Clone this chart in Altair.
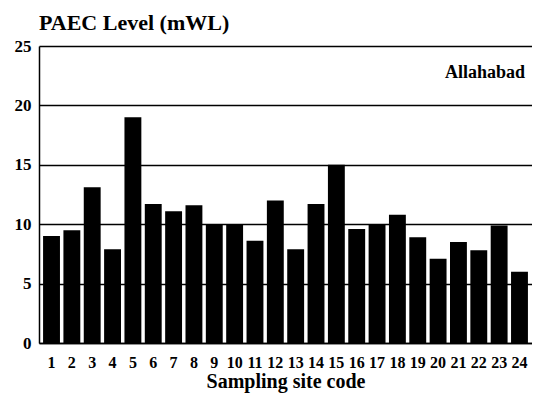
import altair as alt
import pandas as pd

sites = [str(i) for i in range(1, 25)]
paec = [9.0, 9.5, 13.1, 7.9, 19.0, 11.7, 11.1, 11.6, 10.0, 10.0, 8.6, 12.0,
        7.9, 11.7, 15.0, 9.6, 10.0, 10.8, 8.9, 7.1, 8.5, 7.8, 9.9, 6.0]
y_ticks = [0, 5, 10, 15, 20, 25]
location_label = ["Allahabad"]
location_y = [22.7]

FONT = "Liberation Serif"

df = pd.DataFrame({"site": sites, "paec": paec})
lab = pd.DataFrame({"label": location_label, "y": location_y})

bars = alt.Chart(df).mark_bar(color="black").encode(
    x=alt.X("site:N", sort=sites,
            scale=alt.Scale(paddingInner=0.17, paddingOuter=0.2),
            axis=alt.Axis(title="Sampling site code", labelAngle=0, ticks=False,
                          labelPadding=11, titlePadding=1, domainColor="black",
                          domainWidth=1.5, labelFont=FONT, labelFontSize=16,
                          labelFontWeight="bold", labelColor="black",
                          titleFont=FONT, titleFontSize=20, titleFontWeight="bold",
                          titleColor="black", grid=False)),
    y=alt.Y("paec:Q", scale=alt.Scale(domain=[0, 25], nice=False),
            axis=alt.Axis(title=None, values=y_ticks, ticks=False, labelPadding=8,
                          grid=True, gridColor="black", gridWidth=1.5, gridOpacity=1,
                          domainColor="black", domainWidth=1.5,
                          labelFont=FONT, labelFontSize=17, labelFontWeight="bold",
                          labelColor="black")),
)

text = alt.Chart(lab).mark_text(align="right", baseline="middle", font=FONT,
                                fontSize=18, fontWeight="bold", color="black").encode(
    x=alt.value(486),
    y=alt.Y("y:Q", scale=alt.Scale(domain=[0, 25], nice=False)),
    text="label:N",
)

chart = (bars + text).properties(
    width=493, height=297,
    padding={"left": 31, "top": 38, "right": 0, "bottom": 50},
    autosize=alt.AutoSizeParams(type="none"),
    title=alt.TitleParams("PAEC Level (mWL)", anchor="start", font=FONT, fontSize=22,
                          fontWeight="bold", color="black", offset=2, frame="group"),
).configure_view(stroke=None).configure_axis(gridCap="butt")

chart.save("out.html", embed_options={"renderer": "svg", "actions": False})
